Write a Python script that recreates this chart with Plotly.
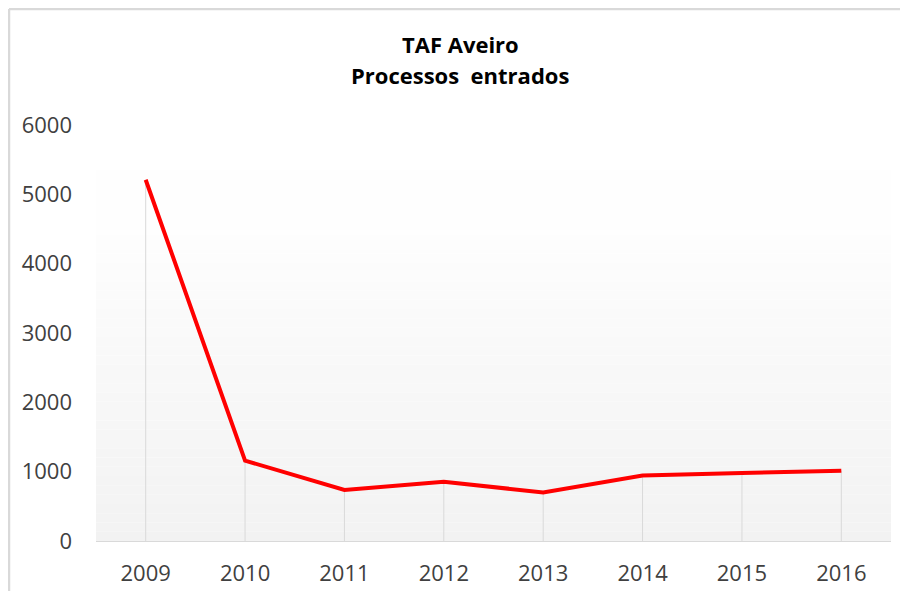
import plotly.graph_objects as go

years = ["2009", "2010", "2011", "2012", "2013", "2014", "2015", "2016"]
processos = [5210, 1160, 735, 855, 700, 945, 980, 1015]
y_ticks = [0, 1000, 2000, 3000, 4000, 5000, 6000]
title_line1 = "TAF Aveiro"
title_line2 = "Processos&nbsp; entrados"

FONT = "Open Sans"
TICK_COLOR = "#404040"

# figure sits 8px inside the page (body margin); size chosen to avoid overflow
W, H = 892, 583
L, T, R, B = 88, 117, 9, 50
PW = W - L - R
PH = H - T - B

fig = go.Figure()

# drop lines from each point to the axis
fig.add_trace(go.Scatter(
    x=years, y=processos, mode="markers",
    marker=dict(size=0.1, color="rgba(0,0,0,0)"),
    error_y=dict(type="data", symmetric=False, array=[0] * len(processos),
                 arrayminus=processos, width=0, color="#d9d9d9", thickness=1),
    hoverinfo="skip", showlegend=False,
))

fig.add_trace(go.Scatter(
    x=years, y=processos, mode="lines",
    line=dict(color="#ff0000", width=4),
    showlegend=False,
))

# gradient background (white at top to light gray at bottom)
shapes = []
top_frac = 0.892
n = 40
for i in range(n):
    y0 = top_frac * i / n
    y1 = top_frac * (i + 1) / n
    t = (i + 0.5) / n
    c = round(242 + (254 - 242) * min(1.0, t * 1.15))
    shapes.append(dict(type="rect", xref="x domain", yref="y domain",
                       x0=0, x1=1, y0=y0, y1=y1, layer="below",
                       line=dict(width=0), fillcolor=f"rgb({c},{c},{c})"))
# outer border (top and left visible)
bx = (-L + 1) / PW
by = (PH + T - 1) / PH
shapes.append(dict(type="line", xref="paper", yref="paper",
                   x0=bx, x1=bx, y0=-B / PH - 0.01, y1=by,
                   line=dict(color="#d9d9d9", width=2.5)))
shapes.append(dict(type="line", xref="paper", yref="paper",
                   x0=bx, x1=1 + R / PW, y0=by, y1=by,
                   line=dict(color="#d9d9d9", width=2.5)))

tx = (460 - 8 - L) / PW
annotations = [
    dict(text=f"<b>{title_line1}</b>", xref="paper", yref="paper",
         x=tx, y=(533 - 36) / PH, xanchor="center", yanchor="middle",
         showarrow=False, font=dict(family=FONT, size=22, color="#000000")),
    dict(text=f"<b>{title_line2}</b>", xref="paper", yref="paper",
         x=tx, y=(533 - 67) / PH, xanchor="center", yanchor="middle",
         showarrow=False, font=dict(family=FONT, size=22, color="#000000")),
]

fig.update_layout(
    width=W, height=H,
    margin=dict(l=L, r=R, t=T, b=B, pad=0, autoexpand=False),
    paper_bgcolor="#ffffff", plot_bgcolor="rgba(0,0,0,0)",
    shapes=shapes, annotations=annotations,
    font=dict(family=FONT, color=TICK_COLOR),
)
fig.update_xaxes(
    type="category", range=[-0.5, 7.5], showgrid=False, zeroline=False,
    showline=True, linecolor="#d9d9d9", linewidth=1, automargin=False,
    tickfont=dict(family=FONT, size=22, color=TICK_COLOR),
    ticks="", ticklabelstandoff=13,
)
fig.update_yaxes(
    range=[0, 6000], tickvals=y_ticks, showgrid=False, zeroline=False,
    showline=False, automargin=False,
    tickfont=dict(family=FONT, size=22, color=TICK_COLOR),
    ticks="", ticklabelstandoff=23,
)

fig.write_html("out.html")
